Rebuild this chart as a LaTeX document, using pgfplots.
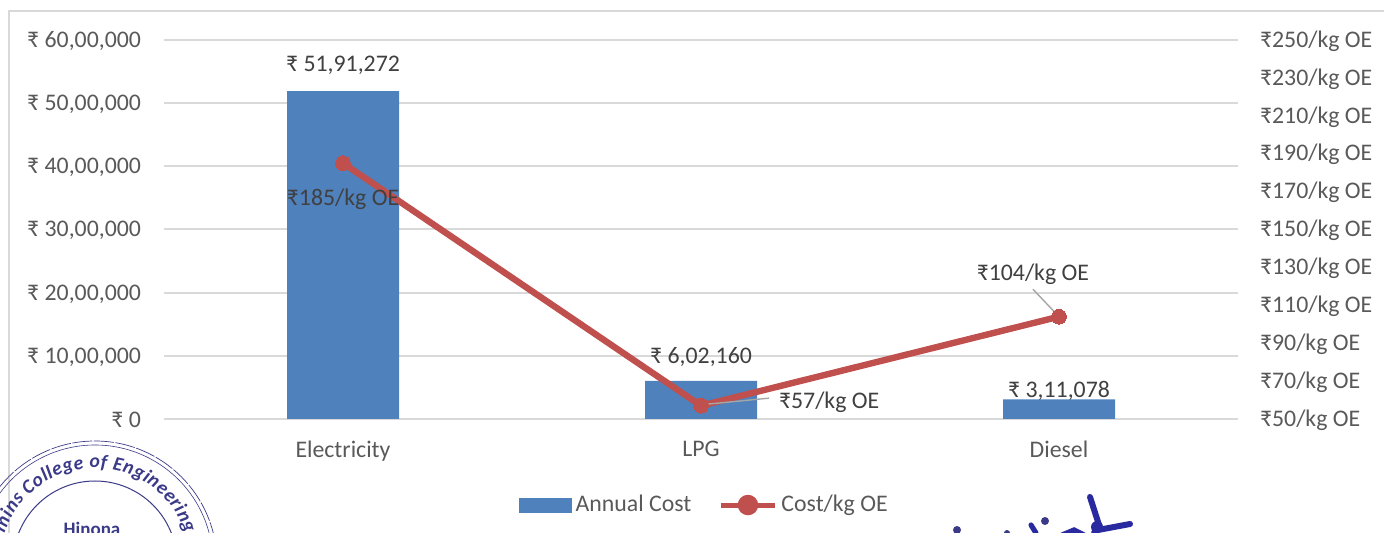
\documentclass[border=0pt]{standalone}
\usepackage{fontspec}
\setmainfont{Carlito}
\usepackage{pgfplots}
\pgfplotsset{compat=1.18}
\usetikzlibrary{decorations.text}
\definecolor{barblue}{HTML}{4F81BD}
\definecolor{linered}{HTML}{C0504D}
\definecolor{gridgray}{HTML}{D9D9D9}
\definecolor{ticktext}{HTML}{595959}
\definecolor{labeltext}{HTML}{404040}
\definecolor{leader}{HTML}{A6A6A6}
\definecolor{ink}{HTML}{3A3A88}
\definecolor{signink}{HTML}{2A2AA0}
\newcommand{\lbl}{\fontsize{11.9}{14}\selectfont}
\pgfplotsset{
  base/.style={
    scale only axis, width=537pt, height=189.5pt,
    xmin=-0.5, xmax=2.5,
    axis line style={draw=none},
    major tick length=0pt,
    tick label style={font=\lbl, text=ticktext},
  }
}
\begin{document}
\begin{tikzpicture}
% page outline in pixel-like units, with y pointing down
\begin{scope}[shift={(-82pt,209.5pt)},x=0.5pt,y=-0.5pt]
  \path[use as bounding box] (0,0) rectangle (1384,533);
  \clip (0,0) rectangle (1384,533);
  \draw[gridgray,line width=1pt] (9,533) -- (9,11) -- (1384,11);
\end{scope}

% annual cost (left axis)
\begin{axis}[base,
  ybar, bar width=56pt,
  ymin=0, ymax=6000000,
  xtick={0,1,2},
  xticklabels={Electricity,LPG,Diesel},
  xticklabel style={yshift=-7.5pt},
  ytick={0,1000000,2000000,3000000,4000000,5000000,6000000},
  yticklabels={{₹ 0},{₹ 10,00,000},{₹ 20,00,000},{₹ 30,00,000},{₹ 40,00,000},{₹ 50,00,000},{₹ 60,00,000}},
  yticklabel style={xshift=-8pt,yshift=-0.6pt},
  scaled y ticks=false,
  ymajorgrids,
  major grid style={gridgray,line width=1pt},
]
\addplot[fill=barblue,draw=none] coordinates {(0,5191272) (1,602160) (2,311078)};
\node[font=\lbl,text=labeltext] at (axis cs:0,5600000) {₹ 51,91,272};
\node[font=\lbl,text=labeltext] at (axis cs:1,985000) {₹ 6,02,160};
\node[font=\lbl,text=labeltext] at (axis cs:2,450000) {₹ 3,11,078};
\end{axis}

% cost per kg of oil equivalent (right axis)
\begin{axis}[base,
  ymin=50, ymax=250,
  xtick=\empty,
  ytick={50,70,90,110,130,150,170,190,210,230,250},
  yticklabels={{₹50/kg OE},{₹70/kg OE},{₹90/kg OE},{₹110/kg OE},{₹130/kg OE},{₹150/kg OE},{₹170/kg OE},{₹190/kg OE},{₹210/kg OE},{₹230/kg OE},{₹250/kg OE}},
  axis y line*=right,
  axis x line=none,
  yticklabel style={anchor=west,xshift=7.5pt,yshift=-0.5pt},
  legend style={at={(0.5040,-0.2270)},anchor=center,draw=none,fill=none,
    font=\lbl,text=ticktext,legend columns=2,
    /tikz/every even column/.style={column sep=11.5pt}},
]
\addlegendimage{legend image code/.code={
  \fill[barblue] (-2pt,-3.5pt) rectangle (24pt,3.5pt);}}
\addlegendentry{Annual Cost}
\addplot[linered,line width=3.2pt,mark=*,mark size=3.7pt,
  mark options={fill=linered,draw=linered,line width=0pt},
  legend image code/.code={
    \draw[linered,line width=2.5pt] (-3pt,0pt) -- (24pt,0pt);
    \fill[linered] (10.5pt,0pt) circle (3.5pt);}]
  coordinates {(0,185) (1,57) (2,104)};
\addlegendentry{Cost/kg OE}
\node[font=\lbl,text=labeltext] at (axis cs:0,166) {₹185/kg OE};
\node[font=\lbl,text=labeltext] at (axis cs:1.358,59) {₹57/kg OE};
\node[font=\lbl,text=labeltext] at (axis cs:1.927,126.5) {₹104/kg OE};
\draw[leader,line width=0.7pt] (axis cs:1.0,57.5) -- (axis cs:1.19,61);
\draw[leader,line width=0.7pt] (axis cs:1.927,118.5) -- (axis cs:2,104);
\end{axis}

% office stamp and signature
\begin{scope}
  \clip (-82pt,-57pt) rectangle (610pt,209.5pt);
  \draw[ink,line width=0.35pt,dash pattern=on 10pt off 0.8pt] (-34.5pt,-72pt) circle (61pt);
  \draw[ink,line width=0.3pt] (-34.5pt,-72pt) circle (59pt);
  \draw[ink,line width=0.5pt] (-34.5pt,-72pt) circle (41pt);
  \path[decorate,decoration={text along path,
      text={|\fontsize{9.8}{12}\selectfont\bfseries\itshape\color{ink}|mins College of Engineering},
      text align={fit to path}}]
    (-34.5pt,-72pt) ++(162:47.5pt) arc[start angle=162,end angle=18,radius=47.5pt];
  \node[font=\fontsize{9.5}{11}\selectfont\bfseries,text=ink] at (-36pt,-55pt) {Hinona};
  % signature strokes
  \begin{scope}[shift={(-82pt,209.5pt)},x=0.5pt,y=-0.5pt]
    \draw[signink,line width=3pt,line cap=round] (1090,497) -- (1099,525) -- (1094,533);
    \draw[signink,line width=3pt,line cap=round] (1098,530) -- (1130,524);
    \fill[signink] (1097,527) circle (6);
    \draw[signink,line width=2.6pt,line cap=round] (1031,525) -- (1036,533);
    \draw[signink,line width=2.6pt,line cap=round] (1062,535) -- (1074,530) -- (1084,535);
    \fill[ink] (1045,521) circle (4);
    \fill[ink] (957,530) circle (4);
    \fill[ink] (1007,533) circle (3);
  \end{scope}
\end{scope}
\end{tikzpicture}
\end{document}
